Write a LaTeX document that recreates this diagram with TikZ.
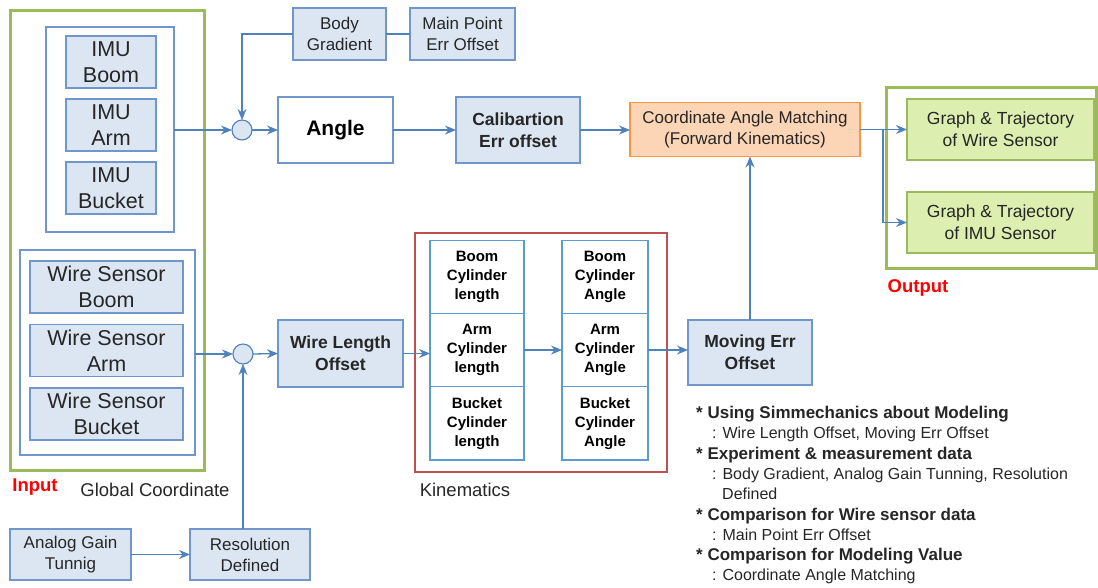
\documentclass[tikz,border=0pt]{standalone}
\usepackage{fontspec}
\setmainfont{Liberation Sans}
\usetikzlibrary{arrows.meta, positioning}

\definecolor{boxline}{HTML}{6F97CB}
\definecolor{boxfill}{HTML}{DCE6F2}
\definecolor{cellline}{HTML}{5B9BD5}
\definecolor{flowblue}{HTML}{4F81BD}
\definecolor{framegreen}{HTML}{9BBB59}
\definecolor{outfill}{HTML}{DDEFB0}
\definecolor{matchfill}{HTML}{FBD5B5}
\definecolor{matchline}{HTML}{F79646}
\definecolor{kinred}{HTML}{C0504D}
\definecolor{txtgray}{HTML}{262626}

\begin{document}
\begin{tikzpicture}[x=1pt, y=-1pt,
    bluebox/.style={rectangle, draw=boxline, fill=boxfill, line width=1.2pt, inner sep=0pt, outer sep=0pt, align=center, text=txtgray},
    frame/.style={rectangle, draw=boxline, line width=1.2pt, inner sep=0pt, outer sep=0pt},
    cell/.style={rectangle, draw=cellline, fill=white, line width=1.1pt, inner sep=0pt, outer sep=0pt, align=center, minimum height=73.3pt, font=\bfseries\fontsize{15}{19}\selectfont},
    sumpt/.style={circle, draw=flowblue, fill=boxfill, line width=1.1pt, minimum size=20pt, inner sep=0pt, outer sep=0pt},
    big/.style={font=\fontsize{21.5}{26}\selectfont},
    mid/.style={font=\fontsize{17}{21}\selectfont},
    midbold/.style={font=\bfseries\fontsize{17.5}{22}\selectfont},
    caption/.style={font=\fontsize{18.5}{22}\selectfont, text=txtgray, inner sep=0pt},
    redlabel/.style={font=\bfseries\fontsize{18.5}{22}\selectfont, text=red, inner sep=0pt},
    flow/.style={draw=flowblue, line width=1.3pt, -{Stealth[length=11pt, width=9pt]}},
    link/.style={draw=flowblue, line width=1.3pt}]
    \useasboundingbox (0,0) rectangle (1098,587);

        % Input side
        \node (inputframe) [rectangle, draw=framegreen, line width=3pt, minimum width=194pt, minimum height=460pt] at (107,240) {};
        \node (imuframe) [frame, minimum width=128pt, minimum height=205pt] at (110,129.5) {};
        \node (imuboom) [bluebox, big, minimum width=90pt, minimum height=52pt] at (111,62) {IMU\\Boom};
        \node (imuarm) [bluebox, big, minimum width=90pt, minimum height=52pt, below=11pt of imuboom] {IMU\\Arm};
        \node (imubucket) [bluebox, big, minimum width=90pt, minimum height=52pt, below=11pt of imuarm] {IMU\\Bucket};
        \node (wireframe) [frame, minimum width=175pt, minimum height=205pt] at (107.5,352.5) {};
        \node (wireboom) [bluebox, big, minimum width=153pt, minimum height=52pt] at (106.5,287) {Wire Sensor\\Boom};
        \node (wirearm) [bluebox, big, minimum width=153pt, minimum height=52pt, below=11.5pt of wireboom] {Wire Sensor\\Arm};
        \node (wirebucket) [bluebox, big, minimum width=153pt, minimum height=52pt, below=11.5pt of wirearm] {Wire Sensor\\Bucket};
        \node (inputlbl) [redlabel] at (35,487) {Input};
        \node (globallbl) [caption] at (155,490) {Global Coordinate};

        % Summing points and corrections
        \node (sumimu) [sumpt] at (242,130) {};
        \node (sumwire) [sumpt] at (243,354) {};
        \node (bodygrad) [bluebox, mid, minimum width=93pt, minimum height=52pt] at (339.5,34) {Body\\Gradient};
        \node (mainpoint) [bluebox, mid, minimum width=105pt, minimum height=52pt] at (462.5,34) {Main Point\\Err Offset};
        \node (analog) [bluebox, mid, minimum width=121pt, minimum height=51pt] at (70.5,554.5) {Analog Gain\\Tunnig};
        \node (resol) [bluebox, mid, minimum width=120pt, minimum height=51pt] at (250,554.5) {Resolution\\Defined};

        % Angle path
        \node (angle) [bluebox, fill=white, font=\bfseries\fontsize{21}{25}\selectfont, text=black, minimum width=115pt, minimum height=66pt] at (335.5,130) {Angle};
        \node (calib) [bluebox, midbold, minimum width=124pt, minimum height=66pt] at (518,130) {Calibartion\\Err offset};
        \node (match) [bluebox, mid, draw=matchline, fill=matchfill, minimum width=230pt, minimum height=54pt] at (745,129.5) {Coordinate Angle Matching\\(Forward Kinematics)};

        % Output side
        \node (outframe) [rectangle, draw=framegreen, line width=3pt, minimum width=210pt, minimum height=181pt] at (991,177.5) {};
        \node (graphwire) [bluebox, draw=framegreen, fill=outfill, font=\fontsize{17.5}{22}\selectfont, minimum width=187pt, minimum height=61pt] at (1000.5,129.5) {Graph \& Trajectory\\of Wire Sensor};
        \node (graphimu) [bluebox, draw=framegreen, fill=outfill, font=\fontsize{17.5}{22}\selectfont, minimum width=187pt, minimum height=61pt] at (1000.5,222.5) {Graph \& Trajectory\\of IMU Sensor};
        \node (outputlbl) [redlabel] at (918,288) {Output};
        \coordinate (split) at (883,129.5);

        % Wire path and kinematics
        \node (wirelen) [bluebox, midbold, minimum width=125pt, minimum height=67pt] at (340.5,353.5) {Wire Length\\Offset};
        \node (kinframe) [rectangle, draw=kinred, line width=2.5pt, minimum width=252pt, minimum height=239pt] at (541,352.5) {};
        \node (lenboom) [cell, minimum width=94pt] at (477,276.7) {Boom\\Cylinder\\length};
        \node (lenarm) [cell, minimum width=94pt, below=0pt of lenboom] {Arm\\Cylinder\\length};
        \node (lenbucket) [cell, minimum width=94pt, below=0pt of lenarm] {Bucket\\Cylinder\\length};
        \node (angboom) [cell, minimum width=86pt] at (605,276.7) {Boom\\Cylinder\\Angle};
        \node (angarm) [cell, minimum width=86pt, below=0pt of angboom] {Arm\\Cylinder\\Angle};
        \node (angbucket) [cell, minimum width=86pt, below=0pt of angarm] {Bucket\\Cylinder\\Angle};
        \node (kinlbl) [caption] at (465,490) {Kinematics};
        \node (moving) [bluebox, midbold, minimum width=124pt, minimum height=65pt] at (750,352.5) {Moving Err\\Offset};

        % Notes
        \node (notes) [anchor=north west, align=left, inner sep=0pt, text=txtgray, font=\fontsize{16}{20.3}\selectfont] at (696,406) {%
            {\bfseries\fontsize{17}{20.3}\selectfont * Using Simmechanics about Modeling}\\
            \hspace*{16pt}: Wire Length Offset, Moving Err Offset\\
            {\bfseries\fontsize{17}{20.3}\selectfont * Experiment \& measurement data}\\
            \hspace*{16pt}: Body Gradient, Analog Gain Tunning, Resolution\\
            \hspace*{26pt}Defined\\
            {\bfseries\fontsize{17}{20.3}\selectfont * Comparison for Wire sensor data}\\
            \hspace*{16pt}: Main Point Err Offset\\
            {\bfseries\fontsize{17}{20.3}\selectfont * Comparison for Modeling Value}\\
            \hspace*{16pt}: Coordinate Angle Matching};

        % Draw arrows
        \draw[flow] (imuframe.east |- sumimu) -- (sumimu.west);
        \draw[flow] (wireframe.east |- sumwire) -- (sumwire.west);
        \draw[link] (mainpoint.west) -- (bodygrad.east);
        \draw[flow] (bodygrad.west) -| (sumimu.north);
        \draw[flow] (sumimu.east) -- (angle.west);
        \draw[flow] (angle.east) -- (calib.west);
        \draw[flow] (calib.east) -- (calib.east -| match.west);
        \draw[link] (match.east) -- (split);
        \draw[flow] (split) -- (graphwire.west);
        \draw[flow] (split) |- (graphimu.west);
        \draw[flow] (analog.east) -- (resol.west);
        \draw[flow] (sumwire.south |- resol.north) -- (sumwire.south);
        \draw[flow] (sumwire.east) -- (wirelen.west);
        \draw[flow] (wirelen.east) -- (wirelen.east -| lenarm.west);
        \draw[flow] (lenarm.east) -- (angarm.west);
        \draw[flow] (angarm.east) -- (angarm.east -| moving.west);
        \draw[flow] (moving.north) -- (moving.north |- match.south);
    \end{tikzpicture}
\end{document}
